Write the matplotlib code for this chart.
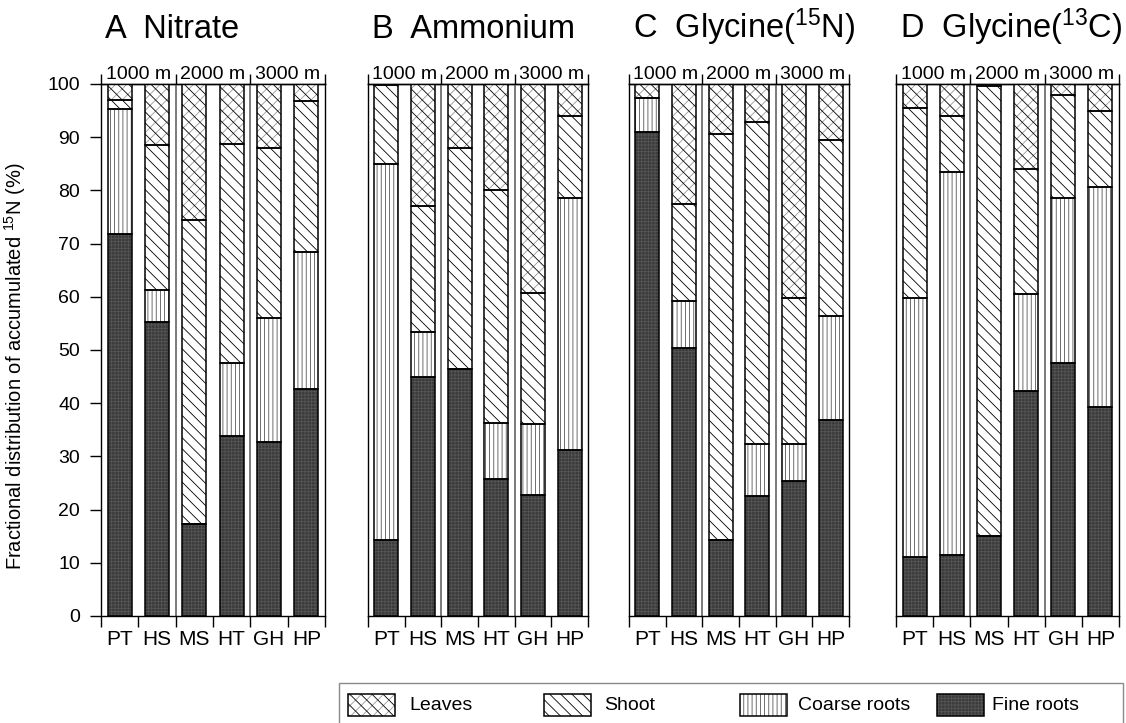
import numpy as np
import matplotlib
matplotlib.use("Agg")
import matplotlib.pyplot as plt
from matplotlib.patches import Rectangle

plt.rcParams['font.family'] = ['Liberation Sans', 'DejaVu Sans']
plt.rcParams['mathtext.fontset'] = 'custom'
plt.rcParams['mathtext.rm'] = 'Liberation Sans'
plt.rcParams['mathtext.it'] = 'Liberation Sans:italic'
plt.rcParams['hatch.linewidth'] = 0.6
plt.rcParams['axes.linewidth'] = 1.0

sites = ['PT', 'HS', 'MS', 'HT', 'GH', 'HP']
elevations = ['1000 m', '2000 m', '3000 m']
titles = ['A  Nitrate', 'B  Ammonium', r'C  Glycine($^{15}$N)', r'D  Glycine($^{13}$C)']
parts = ['Leaves', 'Shoot', 'Coarse roots', 'Fine roots']

# share of accumulated label (%) in each plant part, one row per panel
fine_roots = [
    [71.8, 55.3, 17.2, 33.8, 32.7, 42.6],
    [14.2, 45.0, 46.4, 25.8, 22.8, 31.2],
    [91.0, 50.4, 14.2, 22.6, 25.4, 36.8],
    [11.0, 11.5, 15.0, 42.2, 47.5, 39.2],
]
coarse_roots = [
    [23.5, 5.9, 0.0, 13.7, 23.4, 25.9],
    [70.8, 8.3, 0.0, 10.5, 13.2, 47.3],
    [6.4, 8.9, 0.0, 9.8, 7.0, 19.5],
    [48.8, 72.0, 0.0, 18.4, 31.0, 41.5],
]
shoot = [
    [1.7, 27.3, 57.3, 41.3, 31.9, 28.3],
    [14.8, 23.7, 41.5, 43.7, 24.8, 15.5],
    [0.0, 18.2, 76.4, 60.5, 27.4, 33.2],
    [35.7, 10.4, 84.6, 23.4, 19.4, 14.3],
]
leaves = [
    [3.0, 11.5, 25.5, 11.2, 12.0, 3.2],
    [0.2, 23.0, 12.1, 20.0, 39.2, 6.0],
    [2.6, 22.5, 9.4, 7.1, 40.2, 10.5],
    [4.5, 6.1, 0.4, 16.0, 2.1, 5.0],
]

# fill layers per part: (facecolor, hatch, hatch colour)
styles = {
    'Leaves': [('white', '///', '#9a9a9a'), ('none', '\\\\\\', 'black')],
    'Shoot': [('white', '\\\\\\', 'black')],
    'Coarse roots': [('white', '||||', '#555555')],
    'Fine roots': [('#3a3a3a', '+++++', '#555555')],
}

W, H = 1126, 723
fig = plt.figure(figsize=(W / 100, H / 100), dpi=100)

lefts = [101, 368, 629, 896]
widths = [224, 220, 220, 223]
ax_bottom, ax_top = 616, 84
bar_w = 0.65
x = np.arange(len(sites))


def draw_part(ax, heights, bottoms, part):
    for fc, hatch, hc in styles[part]:
        ax.bar(x, heights, bar_w, bottom=bottoms, color=fc, hatch=hatch,
               edgecolor=hc, linewidth=0, zorder=2)
    ax.bar(x, heights, bar_w, bottom=bottoms, fill=False,
           edgecolor='black', linewidth=1.1, zorder=3)


for i in range(4):
    ax = fig.add_axes([lefts[i] / W, (H - ax_bottom) / H,
                       widths[i] / W, (ax_bottom - ax_top) / H])
    base = np.zeros(len(sites))
    for part, vals in [('Fine roots', fine_roots), ('Coarse roots', coarse_roots),
                       ('Shoot', shoot), ('Leaves', leaves)]:
        v = np.array(vals[i])
        draw_part(ax, v, base, part)
        base = base + v

    ax.set_xlim(-0.5, 5.5)
    ax.set_ylim(0, 100)
    for xs in (1.5, 3.5):
        ax.axvline(xs, color='#707070', lw=1.3, zorder=1)

    # bottom: ticks at bar boundaries, site names in between
    ax.set_xticks(np.arange(-0.5, 6, 1), labels=[''] * 7)
    ax.set_xticks(x, labels=sites, minor=True)
    ax.tick_params(axis='x', which='major', direction='out', length=8, width=1.0)
    ax.tick_params(axis='x', which='minor', length=0, pad=10, labelsize=15)

    if i == 0:
        ax.set_yticks(np.arange(0, 101, 10))
        ax.tick_params(axis='y', direction='out', length=8, width=1.0,
                       pad=7, labelsize=14)
        ax.set_ylabel(r'Fractional distribution of accumulated $^{15}$N (%)',
                      fontsize=14.5)
        ax.yaxis.set_label_coords(-0.325, 0.47)
    else:
        ax.set_yticks([])

    # elevation brackets on top
    top = ax.secondary_xaxis('top')
    top.set_xticks([-0.5, 1.5, 3.5, 5.5], labels=[''] * 4)
    top.set_xticks([0.5, 2.5, 4.5], labels=elevations, minor=True)
    top.tick_params(which='major', direction='out', length=7.5, width=1.0)
    top.tick_params(which='minor', length=0, pad=1, labelsize=14)

    ax.text(0.02, (ax_bottom - 38) / (ax_bottom - ax_top), titles[i],
            transform=ax.transAxes, fontsize=23.5, va='baseline', ha='left')

# legend strip along the bottom
fig.add_artist(Rectangle((339 / W, -0.01), (1123 - 339) / W, (H - 683) / H + 0.01,
                         transform=fig.transFigure, fill=False,
                         edgecolor='#8a8a8a', lw=1.0))
patch_x = [348, 544, 740, 937]
text_x = [409, 604, 798, 992]
for part, px, tx in zip(parts, patch_x, text_x):
    for fc, hatch, hc in styles[part]:
        fig.add_artist(Rectangle((px / W, (H - 716) / H), 47 / W, 22 / H,
                                 transform=fig.transFigure, facecolor=fc,
                                 hatch=hatch, edgecolor=hc, lw=0))
    fig.add_artist(Rectangle((px / W, (H - 716) / H), 47 / W, 22 / H,
                             transform=fig.transFigure, fill=False,
                             edgecolor='black', lw=1.1))
    fig.text(tx / W, (H - 705) / H, part, fontsize=14, va='center', ha='left')

fig.savefig('out.png', dpi=100)
